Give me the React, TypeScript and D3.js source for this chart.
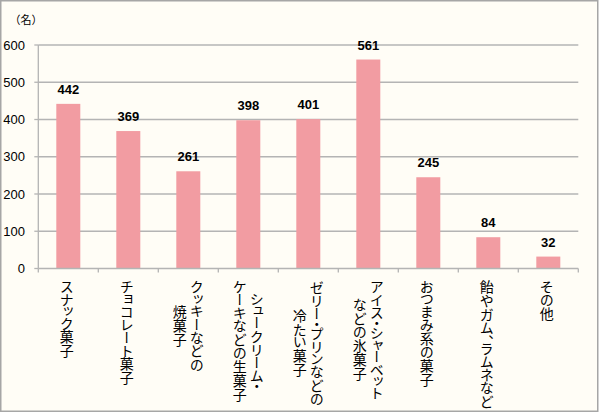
import React, { useEffect, useRef } from "react";
import * as d3 from "d3";

const categories: string[] = [
  "スナック菓子",
  "チョコレート菓子",
  "クッキーなどの\n焼菓子",
  "シュークリーム・\nケーキなどの生菓子",
  "ゼリー・プリンなどの\n冷たい菓子",
  "アイス・シャーベット\nなどの氷菓子",
  "おつまみ系の菓子",
  "飴やガム、ラムネなど",
  "その他",
];
const values: number[] = [442, 369, 261, 398, 401, 561, 245, 84, 32];
const yTicks: number[] = [0, 100, 200, 300, 400, 500, 600];
const unitLabel = "（名）";

const W = 600;
const H = 413;

export default function App() {
  const ref = useRef<SVGSVGElement | null>(null);

  useEffect(() => {
    const svg = d3.select(ref.current);
    svg.selectAll("*").remove();

    const x0 = 38.3;
    const x1 = 578.3;
    const yTop = 45;
    const yBase = 268.5;

    const x = d3.scaleBand<string>().domain(categories).range([x0, x1]).padding(0);
    const y = d3.scaleLinear().domain([0, 600]).range([yBase, yTop]);

    svg.append("rect").attr("x", 0).attr("y", 0).attr("width", W).attr("height", H).attr("fill", "#ffffff");
    svg
      .append("rect")
      .attr("x", 0.75)
      .attr("y", 0.75)
      .attr("width", 597)
      .attr("height", 410.5)
      .attr("fill", "#fffdf6")
      .attr("stroke", "#a6a6a6")
      .attr("stroke-width", 1.5);

    const gridColor = "#b4b4b4";

    // gridlines
    svg
      .append("g")
      .selectAll("line")
      .data(yTicks.filter((t) => t > 0))
      .join("line")
      .attr("x1", x0)
      .attr("x2", x1)
      .attr("y1", (d) => y(d))
      .attr("y2", (d) => y(d))
      .attr("stroke", gridColor)
      .attr("stroke-width", 1.3);

    // y axis
    svg
      .append("line")
      .attr("x1", x0)
      .attr("x2", x0)
      .attr("y1", yTop)
      .attr("y2", yBase)
      .attr("stroke", gridColor)
      .attr("stroke-width", 1.3);
    svg
      .append("g")
      .selectAll("line")
      .data(yTicks)
      .join("line")
      .attr("x1", x0 - 4)
      .attr("x2", x0)
      .attr("y1", (d) => y(d))
      .attr("y2", (d) => y(d))
      .attr("stroke", gridColor)
      .attr("stroke-width", 1.3);

    svg
      .append("g")
      .selectAll("text")
      .data(yTicks)
      .join("text")
      .attr("x", 25)
      .attr("y", (d) => y(d))
      .attr("dy", "0.36em")
      .attr("text-anchor", "end")
      .attr("font-family", "'Liberation Sans', Arial, sans-serif")
      .attr("font-size", 13)
      .attr("fill", "#000")
      .text((d) => String(d));

    // bars
    const bw = x.bandwidth() * 0.4;
    svg
      .append("g")
      .selectAll("rect")
      .data(values)
      .join("rect")
      .attr("x", (d, i) => (x(categories[i]) as number) + x.bandwidth() / 2 - bw / 2)
      .attr("y", (d) => y(d))
      .attr("width", bw)
      .attr("height", (d) => yBase - y(d))
      .attr("fill", "#f29ca2");

    // x axis
    svg
      .append("line")
      .attr("x1", x0)
      .attr("x2", x1)
      .attr("y1", yBase)
      .attr("y2", yBase)
      .attr("stroke", gridColor)
      .attr("stroke-width", 1.3);
    const bounds = categories.map((c) => x(c) as number).concat([x1]);
    svg
      .append("g")
      .selectAll("line")
      .data(bounds)
      .join("line")
      .attr("x1", (d) => d)
      .attr("x2", (d) => d)
      .attr("y1", yBase)
      .attr("y2", yBase + 4)
      .attr("stroke", gridColor)
      .attr("stroke-width", 1.3);

    // value labels
    svg
      .append("g")
      .selectAll("text")
      .data(values)
      .join("text")
      .attr("x", (d, i) => (x(categories[i]) as number) + x.bandwidth() / 2)
      .attr("y", (d) => y(d) - 10)
      .attr("text-anchor", "middle")
      .attr("font-family", "'Liberation Sans', Arial, sans-serif")
      .attr("font-weight", "bold")
      .attr("font-size", 13)
      .attr("fill", "#000")
      .text((d) => String(d));

    // unit label
    svg
      .append("text")
      .attr("x", 26)
      .attr("y", 24)
      .attr("text-anchor", "middle")
      .attr("font-family", "'Noto Sans CJK JP', sans-serif")
      .attr("font-size", 11)
      .attr("fill", "#000")
      .text(unitLabel);

    // category labels (vertical)
    const labelTop = 280;
    const lineGap = 17;
    categories.forEach((cat) => {
      const lines = cat.split("\n");
      const cx = (x(cat) as number) + x.bandwidth() / 2;
      const g = svg.append("g");
      const texts = lines.map((ln, li) => {
        const off = ((lines.length - 1) / 2 - li) * lineGap;
        return g
          .append("text")
          .attr("x", cx + off - (lines.length === 1 ? 1.5 : 0))
          .attr("y", labelTop)
          .attr("writing-mode", "vertical-rl")
          .attr("text-anchor", "middle")
          .style("font-feature-settings", "'vpal' 1")
          .attr("font-family", "'Noto Sans CJK JP', sans-serif")
          .attr("font-size", 14)
          .attr("fill", "#000")
          .text(ln);
      });
      let maxLen = 0;
      texts.forEach((t) => {
        const n = t.node() as SVGTextElement;
        maxLen = Math.max(maxLen, n.getComputedTextLength());
      });
      texts.forEach((t) => t.attr("y", labelTop + maxLen / 2));
    });
  }, []);

  return (
    <svg
      ref={ref}
      width={W}
      height={H}
      style={{ position: "absolute", left: 0, top: 0, display: "block" }}
    />
  );
}
